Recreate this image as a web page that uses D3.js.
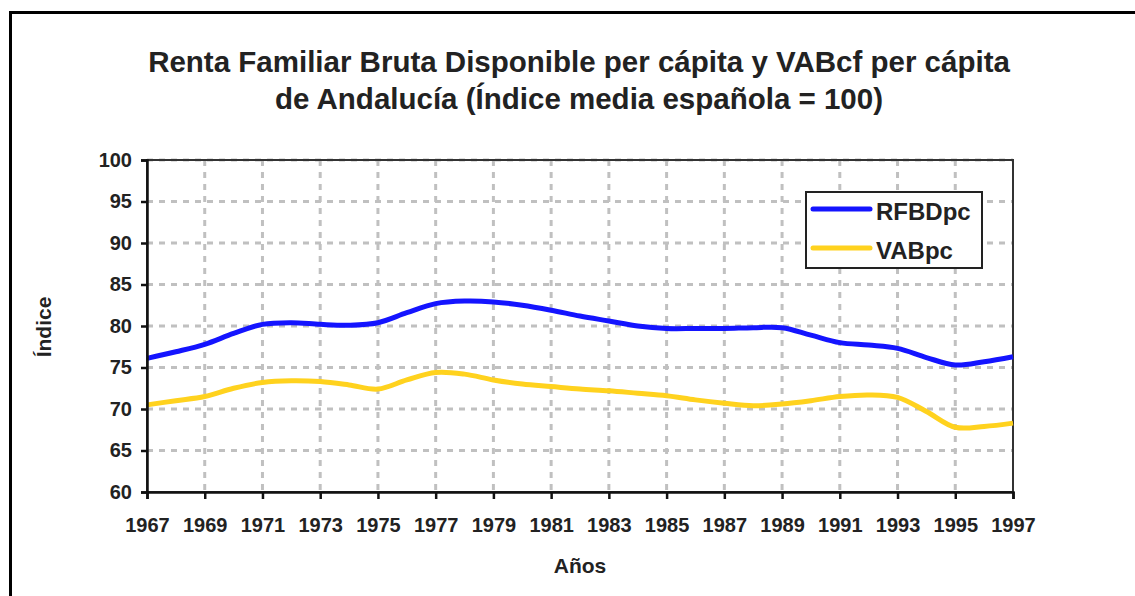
<!DOCTYPE html>
<html>
<head>
<meta charset="utf-8">
<script src="https://cdn.jsdelivr.net/npm/d3@7"></script>
<style>
  body { margin: 0; background: #fff; }
  svg { display: block; font-family: "Liberation Sans", Arial, sans-serif; }
</style>
</head>
<body>
<div id="chart"></div>
<script>
// Data
const years = d3.range(1967, 1998);
const rfbdpc = [76.1, 76.9, 77.8, 79.1, 80.2, 80.4, 80.2, 80.1, 80.4, 81.6,
                82.7, 83.0, 82.9, 82.5, 81.9, 81.2, 80.6, 80.0, 79.7, 79.7,
                79.7, 79.8, 79.8, 78.9, 78.0, 77.7, 77.3, 76.2, 75.3, 75.7, 76.3];
const vabpc = [70.5, 71.0, 71.5, 72.5, 73.2, 73.4, 73.3, 72.9, 72.4, 73.5,
               74.4, 74.2, 73.5, 73.0, 72.7, 72.4, 72.2, 71.9, 71.6, 71.1,
               70.7, 70.4, 70.6, 71.0, 71.5, 71.7, 71.4, 69.7, 67.8, 67.9, 68.3];
const seriesNames = ["RFBDpc", "VABpc"];
const seriesColors = ["#1414ff", "#ffd21e"];
const yTicks = [60, 65, 70, 75, 80, 85, 90, 95, 100];
const xTicks = d3.range(1967, 1998, 2);

const W = 1135, H = 596;
const plot = { left: 147, right: 1013, top: 160, bottom: 492 };

const svg = d3.select("#chart").append("svg")
  .attr("width", W)
  .attr("height", H);

// outer frame (runs off the right and bottom edges)
svg.append("rect")
  .attr("x", 10.5).attr("y", 12.5)
  .attr("width", W + 20).attr("height", H + 20)
  .attr("fill", "#fff")
  .attr("stroke", "#000")
  .attr("stroke-width", 3);

// title
const title = svg.append("text")
  .attr("text-anchor", "middle")
  .style("font-size", "29.5px")
  .style("font-weight", "bold")
  .attr("fill", "#222");
title.append("tspan").attr("x", 579).attr("y", 72)
  .text("Renta Familiar Bruta Disponible per cápita y VABcf per cápita");
title.append("tspan").attr("x", 579).attr("y", 109)
  .text("de Andalucía (Índice media española = 100)");

const x = d3.scaleLinear().domain([1967, 1997]).range([plot.left, plot.right]);
const y = d3.scaleLinear().domain([60, 100]).range([plot.bottom, plot.top]);

// grid lines
const grid = svg.append("g").attr("stroke", "#c0c0c0").attr("stroke-width", 3)
  .attr("stroke-dasharray", "6,6");
grid.selectAll(".vg").data(xTicks.slice(1, -1)).join("line")
  .attr("x1", d => x(d)).attr("x2", d => x(d))
  .attr("y1", plot.top).attr("y2", plot.bottom);
grid.selectAll(".hg").data(yTicks.slice(1)).join("line")
  .attr("x1", plot.left).attr("x2", plot.right)
  .attr("y1", d => y(d)).attr("y2", d => y(d));

// plot area frame
svg.append("rect")
  .attr("x", plot.left).attr("y", plot.top)
  .attr("width", plot.right - plot.left).attr("height", plot.bottom - plot.top)
  .attr("fill", "none").attr("stroke", "#333").attr("stroke-width", 2);

// series lines
const line = d3.line()
  .x((d, i) => x(years[i]))
  .y(d => y(d))
  .curve(d3.curveCatmullRom.alpha(0.5));

[rfbdpc, vabpc].forEach((vals, k) => {
  svg.append("path")
    .datum(vals)
    .attr("fill", "none")
    .attr("stroke", seriesColors[k])
    .attr("stroke-width", 5)
    .attr("stroke-linejoin", "round")
    .attr("d", line);
});

// axes
const yAxis = svg.append("g")
  .attr("transform", `translate(${plot.left},0)`)
  .call(d3.axisLeft(y).tickValues(yTicks).tickSize(6).tickPadding(9));
const xAxis = svg.append("g")
  .attr("transform", `translate(0,${plot.bottom})`)
  .call(d3.axisBottom(x).tickValues(xTicks).tickSize(7).tickPadding(19).tickFormat(d3.format("d")));

[yAxis, xAxis].forEach(ax => {
  ax.select(".domain").attr("stroke", "#111").attr("stroke-width", 2.5);
  ax.selectAll(".tick line").attr("stroke", "#111").attr("stroke-width", 2.5);
  ax.selectAll(".tick text")
    .attr("fill", "#222")
    .style("font-size", "20px")
    .style("font-weight", "bold")
    .style("font-family", "'Liberation Sans', Arial, sans-serif");
});

// axis titles
svg.append("text")
  .attr("x", 580).attr("y", 573)
  .attr("text-anchor", "middle")
  .style("font-size", "21px").style("font-weight", "bold")
  .attr("fill", "#222")
  .text("Años");
svg.append("text")
  .attr("transform", "translate(51,327) rotate(-90)")
  .attr("text-anchor", "middle")
  .style("font-size", "21px").style("font-weight", "bold")
  .attr("fill", "#222")
  .text("Índice");

// legend
const legend = svg.append("g").attr("transform", "translate(806,192)");
legend.append("rect")
  .attr("width", 176).attr("height", 76)
  .attr("fill", "#fff").attr("stroke", "#222").attr("stroke-width", 2);
seriesNames.forEach((name, i) => {
  const ly = 17 + i * 39;
  legend.append("line")
    .attr("x1", 7).attr("x2", 64).attr("y1", ly).attr("y2", ly)
    .attr("stroke", seriesColors[i]).attr("stroke-width", 5)
    .attr("stroke-linecap", "round");
  legend.append("text")
    .attr("x", 70).attr("y", ly + 11)
    .style("font-size", "24px").style("font-weight", "bold")
    .attr("fill", "#222")
    .text(name);
});
</script>
</body>
</html>
